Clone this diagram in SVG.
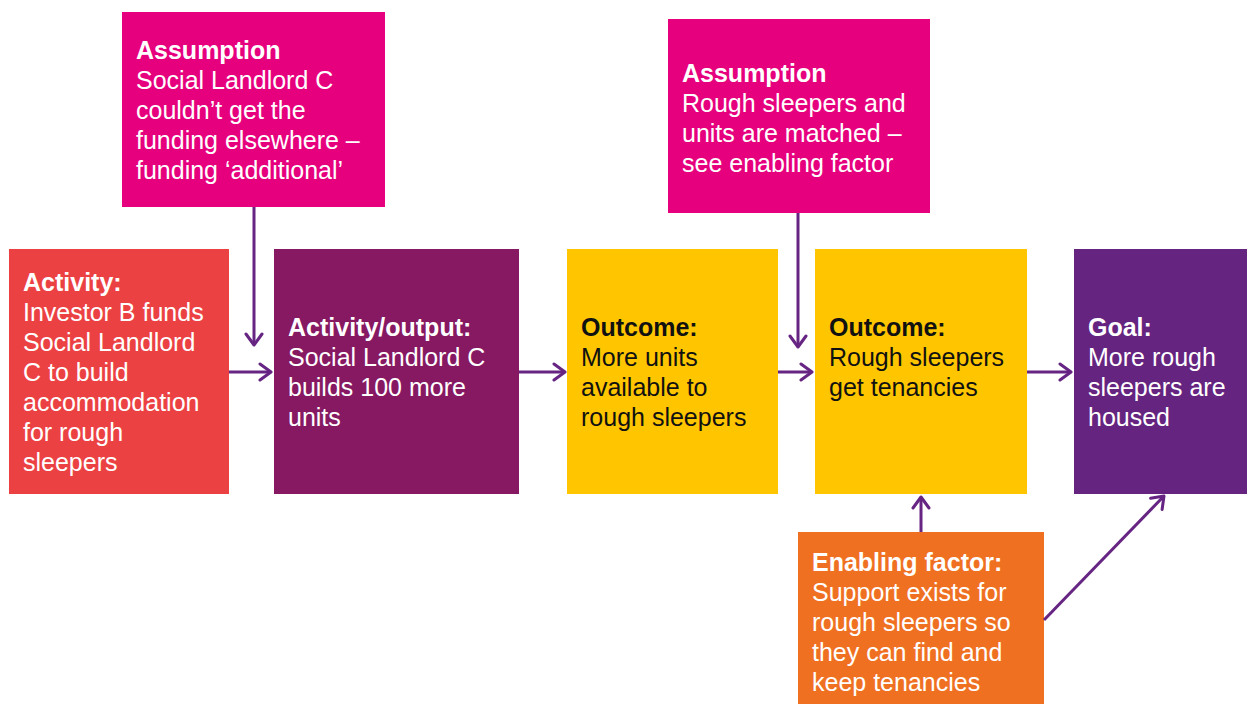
<svg xmlns="http://www.w3.org/2000/svg" width="1247" height="704" viewBox="0 0 1247 704">
<defs>
<marker id="arr" viewBox="0 0 16 20" refX="14" refY="10" markerWidth="16" markerHeight="20" markerUnits="userSpaceOnUse" orient="auto">
<path d="M3,2 L14,10 L3,18" fill="none" stroke="#662483" stroke-width="3" stroke-linecap="round" stroke-linejoin="round"/>
</marker>
<style>
text{font-family:"Liberation Sans",Arial,sans-serif;font-size:25px}
.w{fill:#ffffff}
.k{fill:#111111}
.b{font-weight:bold}
.c line{stroke:#662483;stroke-width:3;marker-end:url(#arr)}
</style>
</defs>
<rect width="1247" height="704" fill="#ffffff"/>
<g id="assumption1">
<rect x="122" y="12" width="263" height="195" fill="#E6007E"/>
<text class="w"><tspan x="136" y="59" class="b">Assumption</tspan><tspan x="136" y="89">Social Landlord C</tspan><tspan x="136" y="119">couldn’t get the</tspan><tspan x="136" y="149">funding elsewhere –</tspan><tspan x="136" y="179">funding ‘additional’</tspan></text>
</g>
<g id="assumption2">
<rect x="668" y="19" width="262" height="194" fill="#E6007E"/>
<text class="w"><tspan x="682" y="82" class="b">Assumption</tspan><tspan x="682" y="112">Rough sleepers and</tspan><tspan x="682" y="142">units are matched –</tspan><tspan x="682" y="172">see enabling factor</tspan></text>
</g>
<g id="activity">
<rect x="9" y="249" width="220" height="245" fill="#EC4143"/>
<text class="w"><tspan x="23" y="291" class="b">Activity:</tspan><tspan x="23" y="321">Investor B funds</tspan><tspan x="23" y="351">Social Landlord</tspan><tspan x="23" y="381">C to build</tspan><tspan x="23" y="411">accommodation</tspan><tspan x="23" y="441">for rough</tspan><tspan x="23" y="471">sleepers</tspan></text>
</g>
<g id="output">
<rect x="274" y="249" width="245" height="245" fill="#861962"/>
<text class="w"><tspan x="288" y="336" class="b">Activity/output:</tspan><tspan x="288" y="366">Social Landlord C</tspan><tspan x="288" y="396">builds 100 more</tspan><tspan x="288" y="426">units</tspan></text>
</g>
<g id="outcome1">
<rect x="567" y="249" width="211" height="245" fill="#FFC600"/>
<text class="k"><tspan x="581" y="336" class="b">Outcome:</tspan><tspan x="581" y="366">More units</tspan><tspan x="581" y="396">available to</tspan><tspan x="581" y="426">rough sleepers</tspan></text>
</g>
<g id="outcome2">
<rect x="815" y="249" width="212" height="245" fill="#FFC600"/>
<text class="k"><tspan x="829" y="336" class="b">Outcome:</tspan><tspan x="829" y="366">Rough sleepers</tspan><tspan x="829" y="396">get tenancies</tspan></text>
</g>
<g id="goal">
<rect x="1074" y="249" width="173" height="245" fill="#65247F"/>
<text class="w"><tspan x="1088" y="336" class="b">Goal:</tspan><tspan x="1088" y="366">More rough</tspan><tspan x="1088" y="396">sleepers are</tspan><tspan x="1088" y="426">housed</tspan></text>
</g>
<g id="enabling">
<rect x="798" y="532" width="246" height="172" fill="#F07022"/>
<text class="w"><tspan x="812" y="571" class="b">Enabling factor:</tspan><tspan x="812" y="601">Support exists for</tspan><tspan x="812" y="631">rough sleepers so</tspan><tspan x="812" y="661">they can find and</tspan><tspan x="812" y="691">keep tenancies</tspan></text>
</g>
<g id="connectors" class="c">
<line x1="229" y1="372" x2="271" y2="372"/>
<line x1="519" y1="372" x2="565" y2="372"/>
<line x1="778" y1="372" x2="812" y2="372"/>
<line x1="1027" y1="372" x2="1071" y2="372"/>
<line x1="254" y1="207" x2="254" y2="345"/>
<line x1="798" y1="213" x2="798" y2="347"/>
<line x1="921" y1="532" x2="921" y2="497"/>
<line x1="1044" y1="620" x2="1164" y2="496"/>
</g>
</svg>
